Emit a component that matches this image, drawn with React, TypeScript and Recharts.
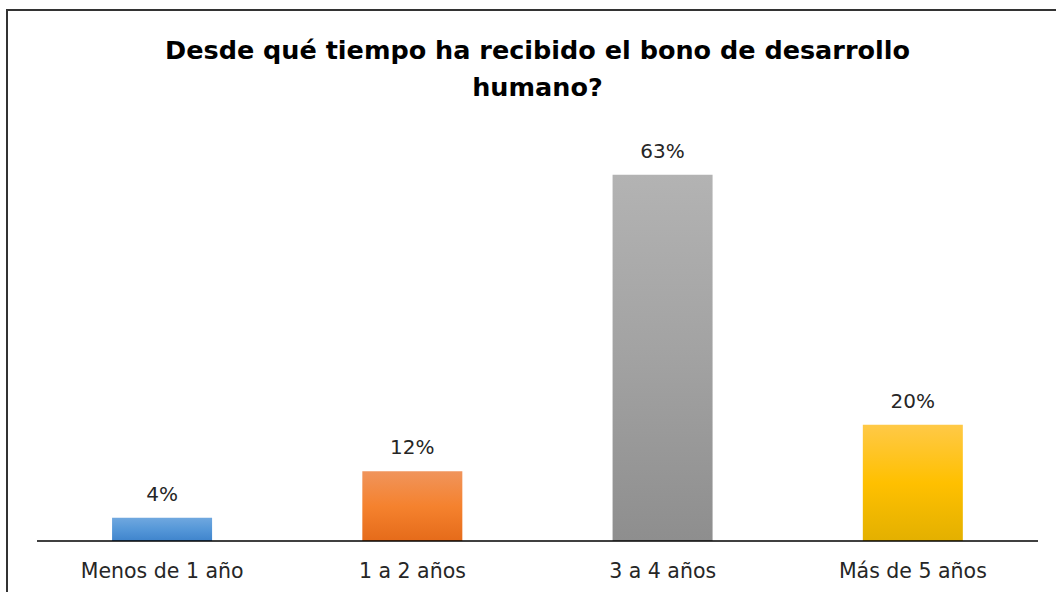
import { BarChart, Bar, XAxis, YAxis, Cell, LabelList } from "recharts";

const categories = ["Menos de 1 año", "1 a 2 años", "3 a 4 años", "Más de 5 años"];
const percents = [4, 12, 63, 20];
const gradients = [
  ["#70A8DF", "#5597D8", "#3F84CC"],
  ["#F0945C", "#F5822E", "#E56B1A"],
  ["#B3B3B3", "#A2A2A2", "#8E8E8E"],
  ["#FFC947", "#FFC000", "#E3B000"],
];

const data = categories.map((name, i) => ({ name, value: percents[i] }));

const font = "'DejaVu Sans', sans-serif";

export default function App() {
  return (
    <div style={{ position: "absolute", left: 0, top: 0, width: 1056, height: 592, overflow: "hidden", background: "#fff", fontFamily: font }}>
      <div style={{ position: "absolute", left: 6, top: 9, width: 1200, height: 700, border: "2px solid #333" }} />
      <div style={{ position: "absolute", left: 37, width: 1001, top: 32, textAlign: "center", fontWeight: "bold", fontSize: 25.5, lineHeight: "37px", color: "#000" }}>
        Desde qué tiempo ha recibido el bono de desarrollo
        <br />
        humano?
      </div>
      <div style={{ position: "absolute", left: 0, top: 0 }}>
        <BarChart width={1056} height={592} data={data} margin={{ top: 134, right: 18, left: 37, bottom: 11 }} barCategoryGap="30%">
          <defs>
            {gradients.map((g, i) => (
              <linearGradient key={i} id={`grad${i}`} x1="0" y1="0" x2="0" y2="1">
                <stop offset="0%" stopColor={g[0]} />
                <stop offset="50%" stopColor={g[1]} />
                <stop offset="100%" stopColor={g[2]} />
              </linearGradient>
            ))}
          </defs>
          <XAxis
            dataKey="name"
            height={40}
            tickLine={false}
            axisLine={{ stroke: "#000", strokeWidth: 1.5 }}
            tick={{ fontSize: 20.5, fill: "#262626", fontFamily: font }}
            tickMargin={16}
          />
          <YAxis hide domain={[0, 70]} width={0} />
          <Bar dataKey="value" isAnimationActive={false}>
            {data.map((_, i) => (
              <Cell key={i} fill={`url(#grad${i})`} />
            ))}
            <LabelList dataKey="value" position="top" offset={17} formatter={(v: any) => `${v}%`} style={{ fontSize: 20, fill: "#262626", fontFamily: font }} />
          </Bar>
        </BarChart>
      </div>
    </div>
  );
}
